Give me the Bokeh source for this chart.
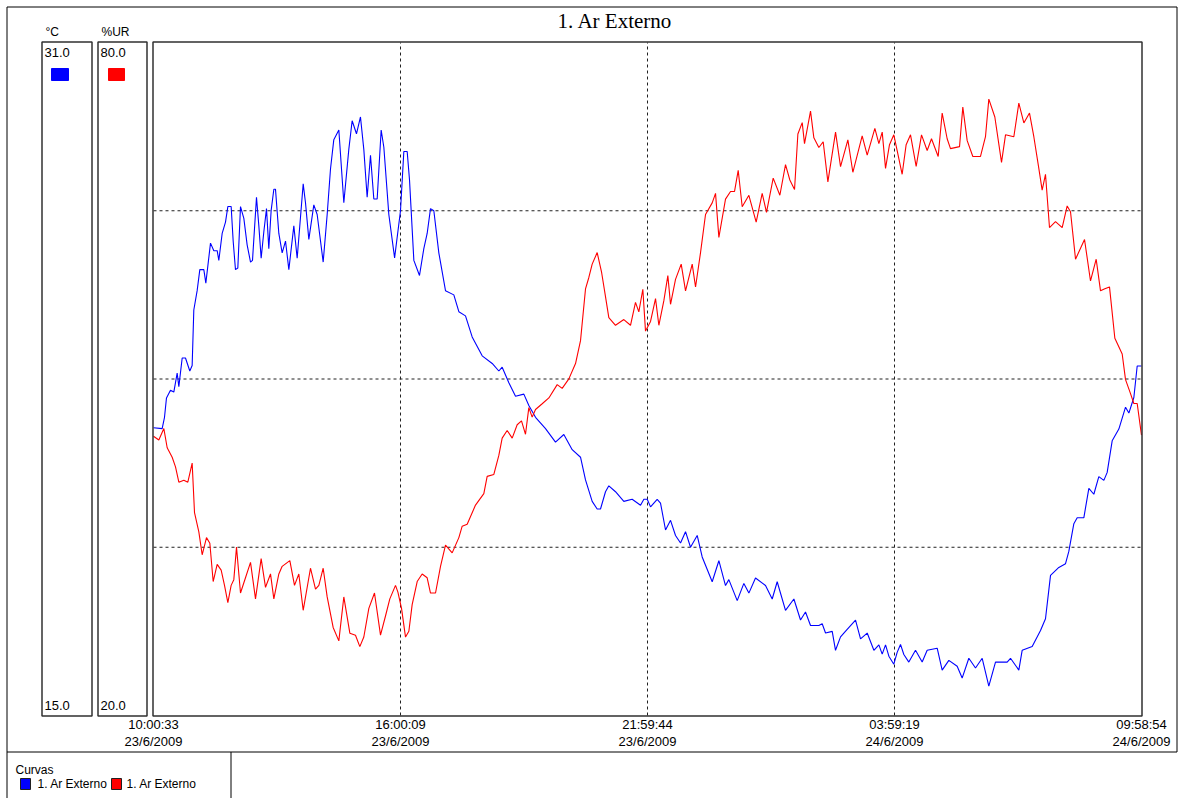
from bokeh.plotting import figure
from bokeh.models import Range1d
from bokeh.core.properties import value
from bokeh.embed import file_html
from bokeh.resources import INLINE

# ---------------- data ----------------
title_text = "1. Ar Externo"
temp_unit = "°C"
rh_unit = "%UR"
temp_limits = [15.0, 31.0]
rh_limits = [20.0, 80.0]
temp_grid = [19.0, 23.0, 27.0]
rh_grid = [35.0, 50.0, 65.0]
tick_hours = [0.0, 5.9933, 11.9864, 17.9794, 23.9725]
tick_times = ["10:00:33", "16:00:09", "21:59:44", "03:59:19", "09:58:54"]
tick_dates = ["23/6/2009", "23/6/2009", "23/6/2009", "24/6/2009", "24/6/2009"]
legend_header = "Curvas"
series_names = ["1. Ar Externo", "1. Ar Externo"]
series_colors = ["#0000FF", "#FF0000"]

# hours since 10:00:33 23/6/2009, temperature in °C
temp_hours = [
    0.000, 0.210, 0.267, 0.315, 0.412, 0.493, 0.574, 0.615, 0.696, 0.776,
    0.881, 0.938, 0.978, 1.059, 1.124, 1.221, 1.270, 1.383, 1.464, 1.545,
    1.585, 1.666, 1.747, 1.804, 1.884, 1.933, 1.989, 2.046, 2.111, 2.192,
    2.272, 2.354, 2.402, 2.499, 2.556, 2.612, 2.677, 2.742, 2.798, 2.855,
    2.920, 2.960, 3.041, 3.122, 3.203, 3.284, 3.405, 3.486, 3.632, 3.688,
    3.769, 3.890, 3.971, 4.117, 4.214, 4.295, 4.375, 4.497, 4.618, 4.739,
    4.820, 4.925, 5.022, 5.103, 5.184, 5.265, 5.346, 5.427, 5.524, 5.589,
    5.710, 5.850, 5.993, 6.074, 6.155, 6.212, 6.317, 6.454, 6.559, 6.640,
    6.721, 6.802, 6.923, 7.085, 7.287, 7.409, 7.570, 7.732, 7.975, 8.218,
    8.379, 8.460, 8.622, 8.784, 8.986, 9.107, 9.269, 9.512, 9.754, 9.956,
    10.159, 10.361, 10.482, 10.644, 10.765, 10.846, 10.967, 11.048, 11.210, 11.412,
    11.614, 11.817, 11.898, 11.979, 12.060, 12.221, 12.302, 12.424, 12.545, 12.666,
    12.788, 12.909, 13.030, 13.192, 13.313, 13.556, 13.718, 13.879, 13.960, 14.163,
    14.324, 14.446, 14.607, 14.850, 15.012, 15.133, 15.335, 15.538, 15.699, 15.820,
    15.942, 16.144, 16.225, 16.306, 16.468, 16.548, 16.670, 16.831, 17.034, 17.155,
    17.317, 17.479, 17.600, 17.681, 17.762, 17.843, 17.963, 18.044, 18.125, 18.206,
    18.327, 18.489, 18.651, 18.772, 19.015, 19.136, 19.298, 19.500, 19.621, 19.783,
    19.945, 20.107, 20.268, 20.430, 20.713, 20.794, 20.996, 21.077, 21.320, 21.522,
    21.643, 21.765, 21.967, 22.129, 22.209, 22.331, 22.412, 22.573, 22.695, 22.816,
    22.937, 23.059, 23.140, 23.261, 23.423, 23.585, 23.666, 23.787, 23.868, 23.972,
]
temp_values = [
    21.84, 21.82, 22.09, 22.55, 22.73, 22.69, 23.14, 22.82, 23.50, 23.50,
    23.19, 23.32, 24.64, 25.10, 25.60, 25.60, 25.28, 26.23, 26.05, 26.05,
    25.82, 26.46, 26.73, 27.10, 27.10, 26.28, 25.60, 25.64, 27.10, 26.82,
    26.19, 25.78, 25.82, 27.32, 26.64, 25.87, 26.50, 27.05, 26.10, 27.01,
    27.51, 27.51, 26.46, 26.00, 26.28, 25.60, 26.64, 25.87, 27.64, 27.19,
    26.32, 27.14, 26.91, 25.78, 26.91, 28.00, 28.69, 28.92, 27.19, 28.46,
    29.14, 28.83, 29.23, 28.46, 27.32, 28.32, 27.28, 27.28, 28.92, 28.51,
    26.91, 25.88, 27.00, 28.41, 28.41, 27.73, 25.82, 25.46, 26.10, 26.46,
    27.05, 27.00, 26.00, 25.10, 25.00, 24.60, 24.50, 24.00, 23.55, 23.37,
    23.19, 23.28, 22.91, 22.59, 22.64, 22.37, 22.09, 21.82, 21.50, 21.68,
    21.32, 21.14, 20.60, 20.09, 19.91, 19.91, 20.32, 20.46, 20.32, 20.09,
    20.14, 20.00, 20.14, 20.14, 19.96, 20.14, 20.05, 19.41, 19.64, 19.28,
    19.10, 19.37, 19.00, 19.28, 18.77, 18.18, 18.68, 18.09, 18.23, 17.73,
    18.14, 17.91, 18.27, 18.09, 17.77, 18.18, 17.50, 17.77, 17.27, 17.46,
    17.14, 17.14, 17.18, 16.96, 17.00, 16.55, 16.87, 17.05, 17.27, 16.82,
    16.96, 16.55, 16.68, 16.46, 16.68, 16.41, 16.22, 16.50, 16.69, 16.45,
    16.27, 16.55, 16.27, 16.55, 16.60, 16.08, 16.31, 16.17, 15.89, 16.36,
    16.13, 16.36, 15.70, 16.27, 16.27, 16.36, 16.08, 16.55, 16.64, 17.02,
    17.30, 18.33, 18.52, 18.61, 18.90, 19.56, 19.70, 19.70, 20.40, 20.26,
    20.68, 20.59, 20.78, 21.53, 21.81, 22.33, 22.19, 22.56, 23.31, 23.31,
]

# hours since 10:00:33 23/6/2009, relative humidity in %
rh_hours = [
    0.000, 0.129, 0.251, 0.332, 0.453, 0.534, 0.615, 0.736, 0.833, 0.938,
    0.995, 1.100, 1.181, 1.286, 1.367, 1.448, 1.545, 1.642, 1.723, 1.804,
    1.884, 1.949, 2.014, 2.111, 2.232, 2.354, 2.475, 2.612, 2.718, 2.839,
    2.920, 3.041, 3.122, 3.308, 3.421, 3.526, 3.632, 3.809, 3.931, 4.012,
    4.117, 4.214, 4.359, 4.497, 4.618, 4.764, 4.901, 5.006, 5.103, 5.225,
    5.362, 5.508, 5.629, 5.734, 5.872, 5.930, 6.018, 6.115, 6.196, 6.276,
    6.398, 6.519, 6.640, 6.721, 6.843, 6.964, 7.085, 7.247, 7.409, 7.490,
    7.611, 7.813, 8.015, 8.096, 8.258, 8.379, 8.460, 8.581, 8.703, 8.824,
    8.929, 9.026, 9.107, 9.188, 9.269, 9.431, 9.593, 9.795, 9.916, 10.078,
    10.240, 10.361, 10.482, 10.563, 10.644, 10.765, 10.870, 10.967, 11.048, 11.210,
    11.412, 11.574, 11.695, 11.776, 11.873, 11.938, 12.060, 12.181, 12.262, 12.383,
    12.480, 12.545, 12.666, 12.804, 12.909, 13.071, 13.152, 13.273, 13.394, 13.556,
    13.637, 13.718, 13.879, 14.001, 14.098, 14.187, 14.284, 14.446, 14.623, 14.769,
    14.874, 15.036, 15.198, 15.335, 15.440, 15.554, 15.635, 15.740, 15.796, 15.942,
    16.023, 16.144, 16.249, 16.363, 16.549, 16.670, 16.848, 16.969, 17.195, 17.317,
    17.503, 17.600, 17.681, 17.762, 17.858, 17.963, 18.044, 18.165, 18.262, 18.368,
    18.505, 18.635, 18.772, 18.877, 19.039, 19.136, 19.257, 19.338, 19.557, 19.637,
    19.743, 19.880, 20.066, 20.187, 20.268, 20.414, 20.576, 20.673, 20.875, 20.996,
    21.118, 21.255, 21.360, 21.481, 21.562, 21.643, 21.740, 21.886, 22.048, 22.169,
    22.250, 22.372, 22.590, 22.735, 22.873, 22.978, 23.083, 23.196, 23.326, 23.504,
    23.585, 23.706, 23.787, 23.868, 23.972,
]
rh_values = [
    44.90, 44.56, 45.58, 43.87, 43.02, 42.17, 40.80, 40.98, 40.80, 42.51,
    38.08, 36.37, 34.33, 35.86, 35.35, 31.94, 33.47, 32.96, 31.60, 30.06,
    31.60, 32.11, 35.01, 30.92, 32.28, 33.65, 30.40, 33.99, 31.43, 32.62,
    30.40, 32.62, 33.30, 33.81, 31.60, 32.62, 29.38, 33.13, 31.26, 31.60,
    33.13, 30.57, 27.85, 26.65, 30.57, 27.34, 27.16, 26.14, 27.00, 29.55,
    30.92, 27.16, 28.87, 30.40, 31.60, 31.00, 29.55, 26.99, 27.51, 29.89,
    31.94, 32.62, 32.28, 30.92, 30.92, 33.30, 35.18, 34.50, 35.86, 36.88,
    37.05, 38.76, 39.78, 41.32, 41.49, 43.19, 44.73, 45.41, 44.73, 45.92,
    46.26, 45.07, 47.45, 46.60, 47.28, 47.79, 48.31, 49.50, 49.16, 50.01,
    51.38, 53.42, 58.03, 59.05, 60.24, 61.27, 59.56, 57.34, 55.47, 54.79,
    55.30, 54.79, 56.83, 55.98, 58.00, 54.27, 55.13, 57.17, 54.79, 56.98,
    59.22, 56.66, 58.88, 60.24, 57.86, 60.24, 58.20, 61.27, 64.67, 65.70,
    66.55, 62.63, 66.04, 66.72, 66.72, 68.60, 65.36, 66.38, 63.99, 66.55,
    64.85, 67.91, 66.38, 69.11, 67.74, 66.89, 71.84, 72.86, 70.98, 73.88,
    71.50, 70.64, 71.15, 67.57, 72.01, 68.94, 71.32, 68.43, 71.67, 69.96,
    72.35, 70.98, 72.01, 68.78, 70.89, 71.77, 70.37, 68.25, 70.89, 71.77,
    68.96, 71.77, 70.37, 71.42, 69.84, 73.71, 71.42, 70.54, 70.72, 74.24,
    71.25, 69.84, 69.84, 71.60, 74.95, 73.36, 69.31, 71.77, 71.60, 74.59,
    72.83, 73.71, 71.60, 68.78, 66.84, 68.25, 63.50, 64.03, 63.50, 65.43,
    64.91, 60.68, 62.44, 58.74, 60.68, 57.86, 58.04, 58.21, 53.63, 52.23,
    49.94, 48.70, 47.82, 47.82, 45.00,
]

# ---------------- layout (page pixels) ----------------
OFF = 0
W, H = 1178, 798
PL, PR, PT, PB = 153, 1141, 42, 715          # main plot box
FONT = value("Liberation Sans")


def lin(p0, p1, v0, v1, p):
    return v0 + (p - p0) * (v1 - v0) / (p1 - p0)


x_range = Range1d(lin(PL, PR, tick_hours[0], tick_hours[-1], OFF),
                  lin(PL, PR, tick_hours[0], tick_hours[-1], OFF + W))
y_range = Range1d(lin(PB, PT, temp_limits[0], temp_limits[1], OFF + H),
                  lin(PB, PT, temp_limits[0], temp_limits[1], OFF))

p = figure(width=W, height=H, x_range=x_range, y_range=y_range,
           output_backend="svg", toolbar_location=None, min_border=0,
           x_axis_location=None, y_axis_location=None,
           outline_line_color=None, background_fill_color="white",
           border_fill_color="white")
p.xgrid.visible = False
p.ygrid.visible = False
p.extra_y_ranges = {
    "rh": Range1d(lin(PB, PT, rh_limits[0], rh_limits[1], OFF + H),
                  lin(PB, PT, rh_limits[0], rh_limits[1], OFF)),
    "py": Range1d(OFF + H, OFF),
}
p.extra_x_ranges = {"px": Range1d(OFF, OFF + W)}

PX = dict(x_range_name="px", y_range_name="py")

# grid lines (dashed) inside main box
p.segment(x0=tick_hours[1:-1], y0=temp_limits[0], x1=tick_hours[1:-1], y1=temp_limits[1],
          line_color="#202020", line_width=1, line_dash="3 3")
p.segment(x0=tick_hours[0], y0=temp_grid, x1=tick_hours[-1], y1=temp_grid,
          line_color="#202020", line_width=1, line_dash="3 3")

# series
p.line(temp_hours, temp_values, line_color=series_colors[0], line_width=1.1)
p.line(rh_hours, rh_values, line_color=series_colors[1], line_width=1.1, y_range_name="rh")

# frames
p.quad(left=[41.5, 97.5, 152.5], right=[91.5, 146.5, 1141.5],
       top=[41.5, 41.5, 41.5], bottom=[715.5, 715.5, 715.5],
       fill_color=None, line_color="#303030", line_width=1.5, **PX)
p.multi_line(xs=[[6.5, 1176.5], [6.5, 6.5], [1176.5, 1176.5], [6.5, 1176.5], [230.5, 230.5]],
             ys=[[6.5, 6.5], [6.5, 798], [6.5, 751.5], [751.5, 751.5], [751.5, 798]],
             line_color="black", line_width=1, **PX)

# title
p.text(x=[614.5], y=[20], text=[title_text], text_font=value("Liberation Serif"),
       text_font_size="21px", text_align="center", text_baseline="middle",
       text_color="black", **PX)

# panel units and limits
p.text(x=[45, 101], y=[31, 31], text=[temp_unit, rh_unit], text_font=FONT,
       text_font_size="12px", text_align="left", text_baseline="middle",
       text_color="black", **PX)
p.text(x=[44, 100, 44, 100], y=[52, 52, 705, 705],
       text=[f"{temp_limits[1]:.1f}", f"{rh_limits[1]:.1f}",
             f"{temp_limits[0]:.1f}", f"{rh_limits[0]:.1f}"],
       text_font=FONT, text_font_size="13px", text_align="left",
       text_baseline="middle", text_color="black", **PX)
p.quad(left=[51, 108], right=[68, 124], top=[68, 68], bottom=[80, 80],
       fill_color=series_colors, line_color=series_colors, line_width=1, **PX)

# x tick labels
p.text(x=tick_hours, y=[724] * len(tick_hours), text=tick_times, y_range_name="py",
       text_font=FONT, text_font_size="13px", text_align="center",
       text_baseline="middle", text_color="black")
p.text(x=tick_hours, y=[741] * len(tick_hours), text=tick_dates, y_range_name="py",
       text_font=FONT, text_font_size="13px", text_align="center",
       text_baseline="middle", text_color="black")

# legend
p.text(x=[15], y=[769], text=[legend_header], text_font=FONT, text_font_size="12px",
       text_align="left", text_baseline="middle", text_color="black", **PX)
p.quad(left=[20, 111], right=[30, 121], top=[778, 778], bottom=[789, 789],
       fill_color=series_colors, line_color="#202020", line_width=1, **PX)
p.text(x=[37, 126], y=[783, 783], text=series_names, text_font=FONT,
       text_font_size="12px", text_align="left", text_baseline="middle",
       text_color="black", **PX)

open("out.html", "w").write(file_html(p, INLINE, title="1. Ar Externo"))
